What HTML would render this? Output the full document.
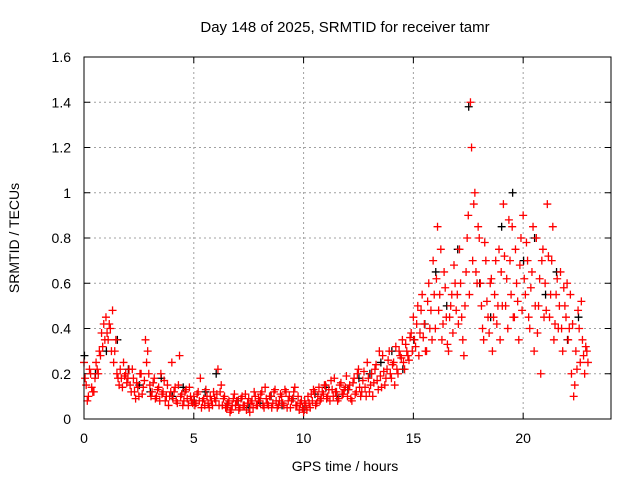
<!DOCTYPE html>
<html><head><meta charset="utf-8"><style>
body{margin:0;background:#fff;}
svg{display:block;font-family:"Liberation Sans",sans-serif;}
</style></head><body>
<svg id="chart" width="640" height="480" xmlns="http://www.w3.org/2000/svg">
<rect width="640" height="480" fill="#fff"/>
<text x="345" y="32" font-size="15" text-anchor="middle">Day 148 of 2025, SRMTID for receiver tamr</text>
<text transform="translate(19,238) rotate(-90)" font-size="14" text-anchor="middle">SRMTID / TECUs</text>
<text x="345" y="471" font-size="14" text-anchor="middle">GPS time / hours</text>
<g id="grid"></g>
<g id="ticks"></g>
<g id="marks"></g>
<rect x="84" y="57" width="527" height="362" fill="none" stroke="#000" stroke-width="1"/>
</svg>
<script>
const xTicks=[0,5,10,15,20];
const yTicks=[0,0.2,0.4,0.6,0.8,1,1.2,1.4,1.6];
const yTickLabels=["0","0.2","0.4","0.6","0.8","1","1.2","1.4","1.6"];
const seriesA=[0.25,0.15,0.10,0.20,0.12,0.18,0.22,0.30,0.38,0.42,
0.45,0.35,0.40,0.48,0.30,0.20,0.15,0.18,0.25,0.20,
0.18,0.15,0.22,0.12,0.16,0.10,0.20,0.14,0.35,0.30,
0.15,0.12,0.18,0.10,0.14,0.20,0.12,0.08,0.15,0.10,
0.25,0.12,0.08,0.15,0.10,0.06,0.12,0.09,0.14,0.08,
0.10,0.07,0.12,0.18,0.08,0.06,0.10,0.05,0.08,0.12,
0.08,0.22,0.12,0.06,0.10,0.05,0.08,0.04,0.09,0.06,
0.08,0.05,0.10,0.06,0.04,0.09,0.07,0.05,0.10,0.06,
0.08,0.12,0.05,0.09,0.06,0.10,0.07,0.13,0.05,0.08,
0.10,0.06,0.12,0.08,0.05,0.09,0.14,0.06,0.04,0.08,
0.03,0.06,0.10,0.05,0.08,0.12,0.07,0.14,0.09,0.11,
0.15,0.10,0.08,0.13,0.18,0.12,0.09,0.16,0.11,0.14,
0.10,0.15,0.08,0.18,0.12,0.22,0.10,0.17,0.14,0.25,
0.12,0.20,0.16,0.24,0.13,0.19,0.28,0.15,0.22,0.30,
0.18,0.25,0.32,0.20,0.28,0.35,0.22,0.30,0.26,0.38,
0.45,0.32,0.50,0.38,0.55,0.42,0.30,0.60,0.48,0.70,
0.40,0.85,0.55,0.35,0.65,0.45,0.30,0.50,0.38,0.60,
0.55,0.75,0.45,0.28,0.65,0.90,1.40,0.70,1.00,0.60,
0.80,0.50,0.35,0.70,0.45,0.60,0.30,0.55,0.42,0.75,
0.65,0.95,0.50,0.40,0.70,0.85,0.45,0.60,0.35,0.80,
0.90,0.55,0.70,0.40,0.65,0.30,0.80,0.50,0.20,0.75,
0.60,0.95,0.45,0.70,0.35,0.55,0.40,0.65,0.30,0.50,
0.60,0.40,0.20,0.10,0.30,0.48,0.25,0.35,0.20,0.30];
const seriesB=[0.18,0.08,0.22,0.14,0.12,0.25,0.20,0.28,0.32,0.35,
0.38,0.42,0.30,0.25,0.35,0.18,0.22,0.14,0.19,0.16,
0.22,0.12,0.18,0.09,0.14,0.20,0.11,0.17,0.25,0.20,
0.10,0.16,0.09,0.13,0.08,0.11,0.17,0.10,0.06,0.12,
0.09,0.14,0.07,0.28,0.11,0.08,0.13,0.06,0.10,0.07,
0.06,0.11,0.08,0.05,0.09,0.13,0.07,0.10,0.06,0.09,
0.11,0.06,0.15,0.09,0.05,0.07,0.03,0.06,0.11,0.08,
0.04,0.09,0.06,0.11,0.07,0.03,0.08,0.12,0.06,0.09,
0.11,0.06,0.14,0.07,0.10,0.05,0.12,0.08,0.06,0.11,
0.07,0.13,0.05,0.10,0.08,0.12,0.06,0.10,0.07,0.05,
0.08,0.04,0.07,0.11,0.13,0.06,0.10,0.08,0.12,0.15,
0.09,0.13,0.17,0.10,0.12,0.08,0.15,0.11,0.13,0.19,
0.13,0.09,0.16,0.11,0.20,0.14,0.12,0.21,0.10,0.18,
0.15,0.10,0.22,0.17,0.30,0.14,0.21,0.18,0.26,0.20,
0.24,0.15,0.22,0.30,0.27,0.25,0.33,0.28,0.36,0.30,
0.35,0.42,0.28,0.48,0.36,0.30,0.52,0.40,0.35,0.55,
0.62,0.48,0.75,0.42,0.58,0.33,0.45,0.55,0.68,0.48,
0.42,0.60,0.35,0.50,0.80,0.55,1.20,0.95,0.65,0.85,
0.60,0.40,0.78,0.52,0.38,0.62,0.45,0.70,0.50,0.35,
0.50,0.72,0.62,0.88,0.55,0.45,0.75,0.52,0.68,0.48,
0.62,0.78,0.45,0.58,0.85,0.50,0.38,0.62,0.70,0.45,
0.48,0.72,0.55,0.85,0.42,0.62,0.50,0.40,0.58,0.45,
0.35,0.55,0.42,0.15,0.22,0.40,0.52,0.28,0.32,0.25];
const seriesK=[0.28,0.20,0.30,0.35,0.22,0.15,0.12,0.18,0.10,0.14,0.08,0.12,0.20,0.06,0.08,0.05,0.07,0.10,0.06,0.09,0.04,0.11,0.14,0.10,0.13,0.18,0.20,0.25,0.30,0.22,0.35,0.42,0.65,0.50,0.75,1.38,0.60,0.45,0.85,1.00,0.70,0.80,0.55,0.65,0.35,0.45];

const X0=84,X1=611,Y0=419,Y1=57,XMAX=24,YMAX=1.6;
const xs=v=>X0+(X1-X0)*v/XMAX;
const ys=v=>Y0-(Y0-Y1)*v/YMAX;
const NS="http://www.w3.org/2000/svg";
const grid=document.getElementById('grid'),ticks=document.getElementById('ticks'),marks=document.getElementById('marks');
function mk(tag,attrs,parent){const e=document.createElementNS(NS,tag);for(const k in attrs)e.setAttribute(k,attrs[k]);parent.appendChild(e);return e;}
xTicks.forEach(t=>{
  const x=xs(t);
  if(t>0){const g=mk('line',{x1:x,x2:x,y1:Y0,y2:Y1,stroke:'#a0a0a0','stroke-dasharray':'2,3'},grid);
  
  }
  mk('line',{x1:x,x2:x,y1:Y0,y2:Y0-6,stroke:'#000'},ticks);
  mk('line',{x1:x,x2:x,y1:Y1,y2:Y1+6,stroke:'#000'},ticks);
  const l=mk('text',{x:x,y:443,'font-size':14,'text-anchor':'middle'},ticks);l.textContent=t;
  
  
});
yTicks.forEach((t,i)=>{
  const y=ys(t);
  if(t>0&&t<YMAX){const g=mk('line',{x1:X0,x2:X1,y1:y,y2:y,stroke:'#a0a0a0','stroke-dasharray':'2,3'},grid);
  
  }
  mk('line',{x1:X0,x2:X0+6,y1:y,y2:y,stroke:'#000'},ticks);
  mk('line',{x1:X1,x2:X1-6,y1:y,y2:y,stroke:'#000'},ticks);
  const l=mk('text',{x:71,y:y+5,'font-size':14,'text-anchor':'end'},ticks);l.textContent=yTickLabels[i];
  
  
});
function plot(arr,step,off,color,name){
  let d='';
  arr.forEach((v,i)=>{const x=xs(i*step+off),y=ys(v);d+=`M${x-4},${y}h8M${x},${y-4}v8`;});
  const p=mk('path',{d:d,stroke:color,'stroke-width':1.3,fill:'none'},marks);
  
  
}
plot(seriesK,0.5,0.02,'#000','black-points');
plot(seriesA,0.1,0,'#ff0000','red-points-a');
plot(seriesB,0.1,0.05,'#ff0000','red-points-b');
</script>
</body></html>
